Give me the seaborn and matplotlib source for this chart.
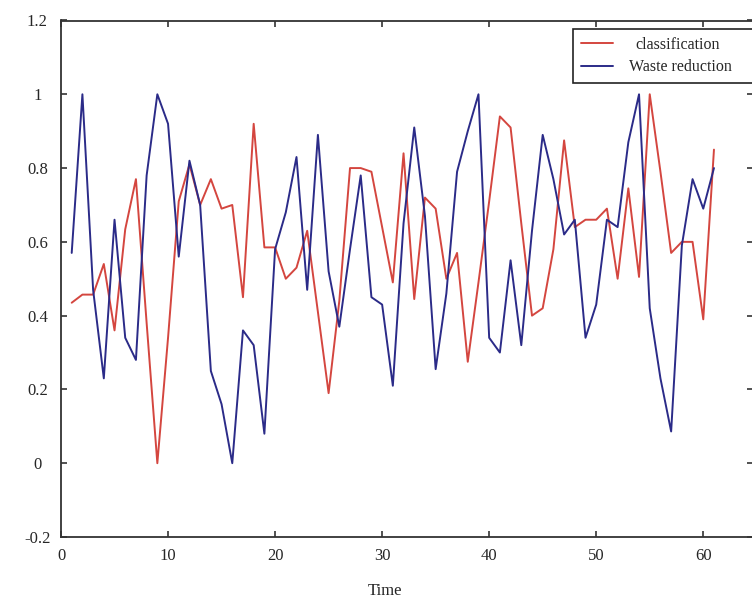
import matplotlib
matplotlib.use('Agg')
import pandas as pd
import matplotlib.pyplot as plt
import seaborn as sns

"""
Data read off the reference chart
"""
time = list(range(1, 62))

classification = [0.435, 0.457, 0.457, 0.54, 0.36, 0.634, 0.77, 0.38, 0.00, 0.34,
                  0.71, 0.81, 0.70, 0.77, 0.69, 0.70, 0.45, 0.92, 0.585, 0.585,
                  0.50, 0.53, 0.63, 0.41, 0.19, 0.44, 0.80, 0.80, 0.79, 0.64,
                  0.49, 0.84, 0.445, 0.72, 0.69, 0.50, 0.57, 0.275, 0.49, 0.71,
                  0.94, 0.91, 0.65, 0.40, 0.42, 0.58, 0.875, 0.64, 0.66, 0.66,
                  0.69, 0.50, 0.745, 0.505, 1.00, 0.79, 0.57, 0.60, 0.60, 0.39,
                  0.85]

waste_reduction = [0.57, 1.00, 0.47, 0.23, 0.66, 0.34, 0.28, 0.78, 1.00, 0.92,
                   0.56, 0.82, 0.70, 0.25, 0.16, 0.00, 0.36, 0.32, 0.08, 0.58,
                   0.68, 0.83, 0.47, 0.89, 0.52, 0.37, 0.58, 0.78, 0.45, 0.43,
                   0.21, 0.65, 0.91, 0.67, 0.255, 0.46, 0.79, 0.90, 1.00, 0.34,
                   0.30, 0.55, 0.32, 0.63, 0.89, 0.77, 0.62, 0.66, 0.34, 0.43,
                   0.66, 0.64, 0.87, 1.00, 0.42, 0.23, 0.086, 0.59, 0.77, 0.69,
                   0.80]

series_names = ['classification', 'Waste reduction']
series_colors = ['#d4463f', '#2b2b88']

x_ticks = [0, 10, 20, 30, 40, 50, 60]
y_ticks = [-0.2, 0, 0.2, 0.4, 0.6, 0.8, 1.0, 1.2]
y_tick_labels = ['-0.2', '0', '0.2', '0.4', '0.6', '0.8', '1', '1.2']

df = pd.DataFrame({
    'Time': time + time,
    'value': classification + waste_reduction,
    'series': [series_names[0]] * len(time) + [series_names[1]] * len(time),
})

"""
Plot
"""
sns.set_style('ticks')
plt.rcParams['font.family'] = ['Liberation Serif', 'DejaVu Serif']

fig = plt.figure(figsize=(7.52, 6.01), dpi=100)
ax = fig.add_axes([61 / 752, 1 - 537 / 601, 691.5 / 752, 516.5 / 601])

sns.lineplot(data=df, x='Time', y='value', hue='series', hue_order=series_names,
             palette=dict(zip(series_names, series_colors)), linewidth=1.4,
             errorbar=None, legend=False, ax=ax)

ax.set_xlim(0, 64.6)
ax.set_ylim(-0.2, 1.2)
ax.set_xticks(x_ticks)
ax.set_xticklabels([str(t) for t in x_ticks])
ax.set_yticks(y_ticks)
ax.set_yticklabels(y_tick_labels)
ax.tick_params(direction='in', top=True, right=True, length=4, width=1.2,
               labelsize=12, color='#333333')
ax.tick_params(axis='x', pad=8)
ax.tick_params(axis='y', pad=17)
plt.setp(ax.get_yticklabels(), ha='center')

ax.spines['right'].set_visible(False)
for side in ['left', 'top', 'bottom']:
    ax.spines[side].set_linewidth(1.3)
    ax.spines[side].set_color('#333333')

ax.set_xlabel('Time', fontsize=12)
ax.set_ylabel('')
ax.xaxis.set_label_coords(0.4685, -0.09)

# legend box runs off the right edge in the original
handles = ax.get_lines()[:2]
leg = ax.legend(handles, series_names, loc='upper left',
                bbox_to_anchor=(0.740, 0.0, 0.28, 0.9835), mode='expand',
                fontsize=11.5, frameon=True, fancybox=False, framealpha=1,
                edgecolor='#222222', borderaxespad=0, handlelength=2.0,
                handletextpad=1.0, labelspacing=0.4, borderpad=0.5)
leg.get_frame().set_linewidth(1.2)
leg.get_texts()[0].set_x(7)

plt.savefig('out.png', dpi=100)
plt.close()
